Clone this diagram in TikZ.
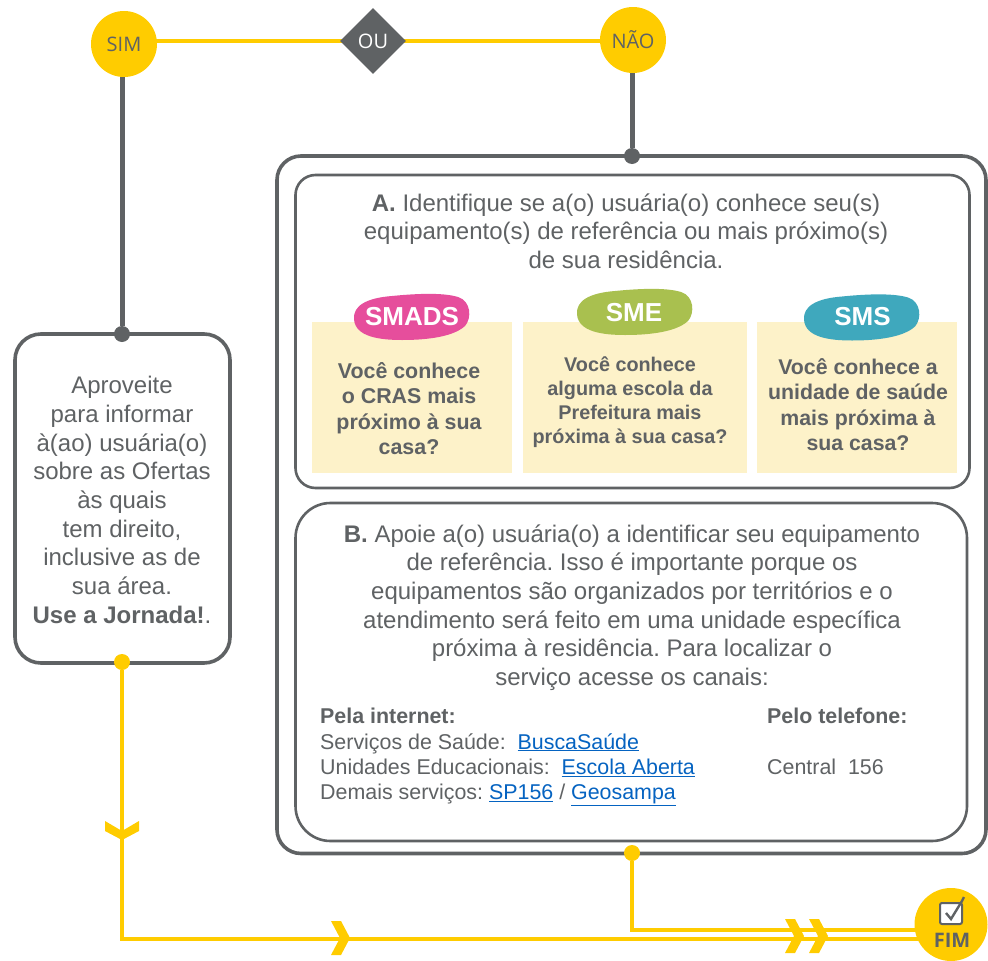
\documentclass[tikz,border=0pt]{standalone}
\usepackage{fontspec}
\setmainfont{Liberation Sans}
\newfontfamily\ofont{Open Sans}
\usetikzlibrary{shapes.geometric,backgrounds}
\frenchspacing
\definecolor{ink}{HTML}{5F6264}
\definecolor{amber}{HTML}{FFCC00}
\definecolor{cream}{HTML}{FDF2C9}
\definecolor{pinkb}{HTML}{E64E9C}
\definecolor{greenb}{HTML}{A9C04F}
\definecolor{tealb}{HTML}{3FA8BD}
\definecolor{linkb}{HTML}{0563C1}
\newcommand{\lnk}[1]{{\color{linkb}\underline{#1}}}
\newcommand{\blobpath}{(354,319) .. controls (353,306) and (366,298) .. (392,296) .. controls (412,294) and (442,292) .. (458,297) .. controls (471,301) and (472,318) .. (465,326) .. controls (452,338) and (422,340) .. (402,340) .. controls (380,340) and (355,337) .. (354,319) -- cycle}
\tikzset{
  x=1pt,y=-1pt,
  txt/.style={text=ink,inner sep=0pt,align=center},
  body/.style={txt,font=\fontsize{24}{28.7}\selectfont},
  small/.style={txt,align=left,font=\fontsize{21.4}{25.3}\selectfont},
  disc/.style={circle,fill=amber,minimum size=66pt,inner sep=0pt,text=ink,font=\ofont\fontsize{20}{24}\selectfont},
  dot/.style={circle,fill=#1,minimum size=16pt,inner sep=0pt},
  frameA/.style={draw=ink,line width=3.6pt,fill=white},
  frameB/.style={draw=ink,line width=2.6pt,fill=white},
  card/.style={fill=cream},
  blobtxt/.style={text=white,inner sep=0pt,font=\fontsize{26}{26}\selectfont\bfseries},
  amberline/.style={draw=amber,line width=4pt},
  greyline/.style={draw=ink,line width=5pt},
  chev/.style={fill=amber}
}
\begin{document}
\begin{tikzpicture}
\useasboundingbox (0,0) rectangle (988,961);
% boxes
\draw[frameA,rounded corners=24pt] (277,156) rectangle (986,853.5);
\draw[frameB,rounded corners=20pt] (295.5,175) rectangle (969.5,488);
\draw[frameB,rounded corners=35pt] (295.5,503) rectangle (967,841);
\draw[frameA,rounded corners=26pt] (15,334) rectangle (230,663);
% cards
\fill[card] (312,322) rectangle (512,473);
\fill[card] (523,322) rectangle (747,473);
\fill[card] (757,322) rectangle (957,473);
% blobs
\fill[pinkb] \blobpath;
\fill[greenb,shift={(223,-5)}] \blobpath;
\fill[tealb,shift={(450,0.5)}] \blobpath;
\node[blobtxt] (smads) at (412,316.5) {SMADS};
\node[blobtxt] (sme) at (634,313) {SME};
\node[blobtxt] (sms) at (862.5,317) {SMS};
% main nodes
\node[disc] (sim) at (124,44) {SIM};
\node[disc] (nao) at (633,40) {NÃO};
\node[diamond,aspect=1,fill=ink,text=white,minimum width=66pt,minimum height=66pt,inner sep=0pt,font=\ofont\fontsize{20}{24}\selectfont] (ou) at (373,41) {OU};
\node[disc,minimum size=73pt] (fim) at (951,924.5) {};
\node[txt,font=\ofont\fontsize{20}{20}\selectfont\bfseries] (fimtxt) at (952,940) {FIM};
\node[dot=ink] (d1) at (632,156) {};
\node[dot=ink] (d2) at (122,334) {};
\node[dot=amber] (d3) at (122,662) {};
\node[dot=amber] (d4) at (632,853) {};
\coordinate (corner1) at (122,939);
\coordinate (corner2) at (632,930);
% connectors
\begin{scope}[on background layer]
\draw[amberline] (sim.center |- ou.center) -- (ou.center) -- (nao.center |- ou.center);
\draw[amberline] (d3) -- (corner1) -- (corner1 -| fim.center);
\draw[amberline] (d4) -- (corner2) -- (corner2 -| fim.center);
\end{scope}
\draw[greyline] (sim.south -| d2) -- (d2);
\draw[greyline] (nao.south -| d1) -- (d1);
% chevrons
\fill[chev] (105,821) -- (122,831) -- (139,821) -- (139,831) -- (122,840) -- (105,831) -- cycle;
\fill[chev] (331,921) -- (341,921) -- (350,938) -- (341,955) -- (331,955) -- (340,938) -- cycle;
\fill[chev] (785,919) -- (795,919) -- (804,936) -- (795,953) -- (785,953) -- (794,936) -- cycle;
\fill[chev] (809,919) -- (819,919) -- (828,936) -- (819,953) -- (809,953) -- (818,936) -- cycle;
% check icon
\draw[draw=ink,line width=2pt,fill=white,rounded corners=2pt] (940,903) rectangle (962,924);
\draw[draw=ink,line width=2.4pt] (946,913) -- (951,919) -- (962,901) -- (964,897);
% texts
\node[body] (ta) at (626,231) {\textbf{A.} Identifique se a(o) usuária(o) conhece seu(s)\\equipamento(s) de referência ou mais próximo(s)\\de sua residência.};
\node[body] (tb) at (632,607.5) {\textbf{B.} Apoie a(o) usuária(o) a identificar seu equipamento\\de referência. Isso é importante porque os\\equipamentos são organizados por territórios e o\\atendimento será feito em uma unidade específica\\próxima à residência. Para localizar o\\serviço acesse os canais:};
\node[body] (tl) at (122,500) {Aproveite\\para informar\\à(ao) usuária(o)\\sobre as Ofertas\\às quais\\tem direito,\\inclusive as de\\sua área.\\\textbf{Use a Jornada!}.};
\node[txt,font=\fontsize{21.4}{25.5}\selectfont\bfseries] (q1) at (409,408.5) {Você conhece\\o CRAS mais\\próximo à sua\\casa?};
\node[txt,font=\fontsize{19.8}{24}\selectfont\bfseries] (q2) at (630,402) {Você conhece\\alguma escola da\\Prefeitura mais\\próxima à sua casa?};
\node[txt,font=\fontsize{21.3}{25.5}\selectfont\bfseries] (q3) at (858,404.5) {Você conhece a\\unidade de saúde\\mais próxima à\\sua casa?};
\node[small,anchor=north west] (ti) at (320,708) {\textbf{Pela internet:}\\Serviços de Saúde:\ \ \lnk{BuscaSaúde}\\Unidades Educacionais:\ \ \lnk{Escola Aberta}\\Demais serviços: \lnk{SP156} / \lnk{Geosampa}};
\node[small,anchor=north west] (tt1) at (767,708) {\textbf{Pelo telefone:}};
\node[small,anchor=north west] (tt2) at (767,758.6) {Central\ \ 156};
\end{tikzpicture}
\end{document}
